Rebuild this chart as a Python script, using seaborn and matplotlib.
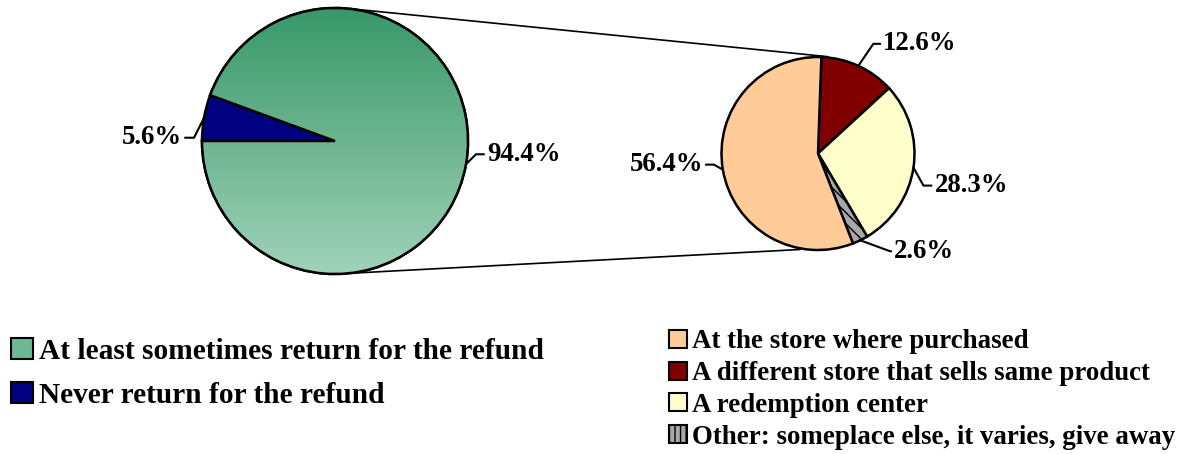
import numpy as np
import matplotlib
matplotlib.use("Agg")
import matplotlib.pyplot as plt
import seaborn as sns
from matplotlib.patches import Patch, Wedge
from matplotlib.colors import LinearSegmentedColormap

sns.set_style("white")
plt.rcParams['font.family'] = ['Liberation Serif', 'DejaVu Serif']
plt.rcParams['font.weight'] = 'bold'
plt.rcParams['text.color'] = 'black'
plt.rcParams['hatch.linewidth'] = 1.0

# ---- data ----
main_labels = ["At least sometimes return for the refund", "Never return for the refund"]
main_values = [94.4, 5.6]
main_colors = ["#5fb087", "#000080"]

sub_labels = ["A different store that sells same product", "A redemption center",
              "Other: someplace else, it varies, give away", "At the store where purchased"]
sub_values = [12.6, 28.3, 2.6, 56.4]
sub_colors = ["#800000", "#ffffcc", "#a8a8a8", "#ffcc99"]
sub_hatches = [None, None, "\\\\\\", None]
legend_order = [3, 0, 1, 2]

W, H = 1185, 454
fig = plt.figure(figsize=(W / 100, H / 100), dpi=100)
ax = fig.add_axes([0, 0, 1, 1])


def fix_axes():
    ax.set_xlim(0, W)
    ax.set_ylim(0, H)
    ax.set_aspect("equal")
    ax.axis("off")


# ---- main pie ----
c1 = (335, H - 141)
r1 = 133
w1, _ = ax.pie(main_values, colors=main_colors, startangle=180, counterclock=True,
               center=c1, radius=r1, frame=True,
               wedgeprops=dict(edgecolor="black", linewidth=1.8))
fix_axes()

# gradient on big wedge (dark at top, light at bottom)
cmap = LinearSegmentedColormap.from_list("g", ["#a0d2ba", "#389868"])
grad = np.linspace(1, 0, 256).reshape(-1, 1)
im = ax.imshow(grad, cmap=cmap, vmin=0, vmax=1,
               extent=(c1[0] - r1, c1[0] + r1, c1[1] - r1, c1[1] + r1),
               aspect="auto", origin="upper", zorder=w1[0].get_zorder() + 0.1)
im.set_clip_path(w1[0])
edge = Wedge(c1, r1, w1[0].theta1, w1[0].theta2, facecolor="none",
             edgecolor="black", linewidth=1.8, zorder=im.get_zorder() + 0.1)
ax.add_patch(edge)

# ---- sub pie ----
c2 = (818, H - 153.5)
r2 = 96.5
w2, _ = ax.pie(sub_values, colors=sub_colors, startangle=88, counterclock=False,
               center=c2, radius=r2, frame=True,
               wedgeprops=dict(edgecolor="black", linewidth=1.8))
for w, h in zip(w2, sub_hatches):
    if h:
        w.set_hatch(h)
fix_axes()

# connector lines
ax.plot([c1[0] + 18, 828], [c1[1] + r1 - 1, H - 56.7], color="black", lw=1.2, zorder=0.5)
ax.plot([c1[0] + 20, 800], [c1[1] - r1 + 1, H - 249.5], color="black", lw=1.2, zorder=0.5)


# ---- labels with leader lines ----
def label(wedge, center, r, val, dx, dy, hlen, ha, fs=19.3):
    th = np.deg2rad((wedge.theta1 + wedge.theta2) / 2)
    x0 = center[0] + r * np.cos(th)
    y0 = center[1] + r * np.sin(th)
    x1, y1 = x0 + dx, y0 + dy
    sgn = 1 if ha == "left" else -1
    x2 = x1 + sgn * hlen
    ax.plot([x0, x1, x2], [y0, y1, y1], color="black", lw=1.5, zorder=5)
    ax.text(x2 + sgn * 3, y1, f"{val}%", ha=ha, va="center", fontsize=fs,
            fontweight="bold", color="black", zorder=6)


label(w1[0], c1, r1, main_values[0], 10, 10, 8, "left")
label(w1[1], c1, r1, main_values[1], -10, -20, 9, "right")
label(w2[0], c2, r2, sub_values[0], 15, 22, 7, "left")
label(w2[1], c2, r2, sub_values[1], 10, -18, 8, "left")
label(w2[2], c2, r2, sub_values[2], 30, -11, 1, "left")
label(w2[3], c2, r2, sub_values[3], -9, 5, 8, "right")

# ---- legends ----
h_main = [Patch(facecolor=c, edgecolor="black", linewidth=1.5) for c in ["#6fb893", main_colors[1]]]
leg1 = fig.legend(h_main, main_labels, loc="upper left", bbox_to_anchor=(-4 / W, 1 - 323 / H),
                  frameon=False, prop=dict(family="Liberation Serif", weight="bold", size=21.2),
                  handlelength=0.75, handleheight=0.75, handletextpad=0.2, labelspacing=0.57,
                  borderpad=0)
h_sub = []
for i in legend_order:
    h_sub.append(Patch(facecolor=sub_colors[i], edgecolor="black", linewidth=1.5,
                       hatch="|||" if sub_hatches[i] else None))
leg2 = fig.legend(h_sub, [sub_labels[i] for i in legend_order], loc="upper left",
                  bbox_to_anchor=(656 / W, 1 - 316 / H), frameon=False,
                  prop=dict(family="Liberation Serif", weight="bold", size=19.4),
                  handlelength=0.65, handleheight=0.65, handletextpad=0.2, labelspacing=0.25,
                  borderpad=0)
for lg in (leg1, leg2):
    for t in lg.get_texts():
        t.set_color("black")

fig.savefig("out.png", dpi=100)
